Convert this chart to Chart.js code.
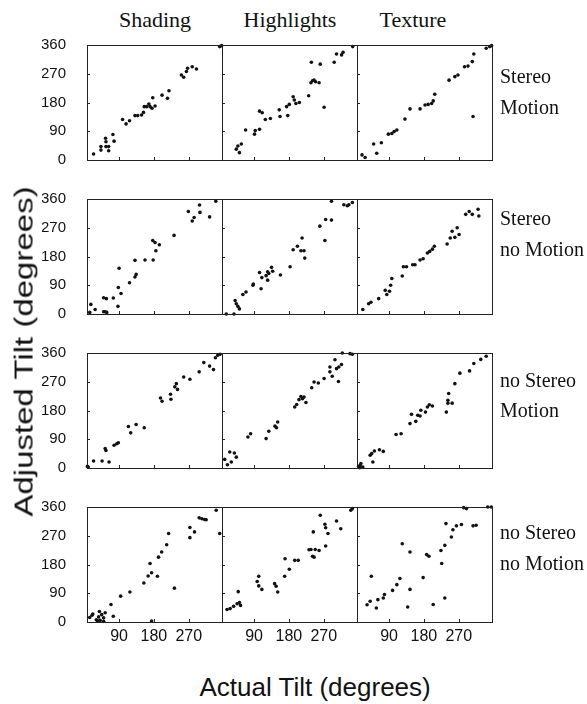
<!DOCTYPE html>
<html>
<head>
<meta charset="utf-8">
<script src="https://cdn.jsdelivr.net/npm/chart.js@4.4.1/dist/chart.umd.min.js"></script>
<style>
  body { margin: 0; background: #fff; width: 587px; height: 704px; position: relative; overflow: hidden; }
  canvas { position: absolute; }
  .lbl { position: absolute; white-space: nowrap; line-height: 1; color: #111; }
  .ser { font-family: "Liberation Serif", "Times New Roman", serif; }
  .sans { font-family: "Liberation Sans", Arial, sans-serif; }
</style>
</head>
<body>

<script>
// --- DATA ---
const columns = ['Shading', 'Highlights', 'Texture'];
const rowLabels = [['Stereo', 'Motion'], ['Stereo', 'no Motion'], ['no Stereo', 'Motion'], ['no Stereo', 'no Motion']];
const xTicks = [90, 180, 270];
const yTicks = [0, 90, 180, 270, 360];

// [actual tilt, adjusted tilt]
const shadingSM = [[24,19],[43,31],[43,42],[55,68],[56,57],[56,42],[63,42],[63,29],[74,80],[77,59],[99,127],[108,113],[117,123],[131,139],[138,139],[148,141],[153,149],[155,167],[161,167],[167,175],[170,167],[175,162],[177,195],[183,169],[201,203],[215,193],[219,217],[251,266],[257,259],[264,277],[267,287],[279,292],[290,285],[350,355],[355,358]];
const highlightsSM = [[44,34],[48,44],[52,23],[57,50],[68,94],[91,81],[93,92],[104,96],[104,153],[111,148],[119,127],[132,130],[155,157],[157,136],[174,167],[177,139],[181,174],[191,198],[194,188],[198,177],[207,180],[231,201],[238,306],[237,242],[241,248],[245,250],[249,245],[258,242],[261,300],[271,165],[297,306],[303,332],[316,329],[320,337],[345,355]];
const textureSM = [[20,16],[28,8],[50,50],[58,21],[70,54],[88,81],[97,83],[103,89],[110,94],[131,128],[144,160],[170,160],[183,172],[191,174],[200,177],[208,206],[204,185],[245,250],[260,261],[268,266],[285,292],[294,294],[307,136],[305,308],[309,332],[341,350],[350,355],[355,358]];

const shadingSN = [[14,5],[17,30],[28,14],[50,51],[57,48],[54,7],[58,5],[50,7],[75,50],[87,24],[88,83],[90,143],[95,64],[117,98],[131,116],[134,124],[131,168],[157,169],[178,169],[177,230],[183,224],[185,198],[194,217],[232,246],[269,321],[279,291],[284,302],[298,341],[299,318],[324,304],[340,353]];
const highlightsSN = [[18,0],[38,0],[41,42],[44,32],[48,24],[52,16],[61,61],[69,69],[87,90],[88,94],[104,130],[108,79],[110,114],[121,120],[125,132],[125,106],[128,127],[135,146],[138,134],[158,122],[183,148],[191,201],[202,212],[211,198],[214,238],[219,198],[221,175],[260,275],[273,230],[275,296],[290,294],[290,353],[322,342],[331,339],[335,342],[344,349]];
const textureSN = [[22,14],[37,32],[43,37],[63,48],[80,74],[84,61],[91,71],[94,90],[97,111],[124,119],[127,148],[135,148],[151,154],[157,154],[170,169],[178,173],[189,191],[195,196],[202,203],[207,212],[240,219],[248,238],[253,259],[260,240],[266,270],[271,249],[288,312],[297,321],[305,312],[320,328],[322,307]];

const shadingNM = [[8,5],[10,3],[24,22],[46,22],[54,61],[56,55],[64,19],[77,71],[84,76],[88,79],[114,130],[120,110],[134,136],[155,126],[197,219],[201,209],[223,231],[224,215],[234,254],[238,264],[241,246],[257,285],[273,278],[297,301],[309,330],[324,319],[334,308],[339,345],[345,353],[351,356]];
const highlightsNM = [[14,27],[21,10],[27,50],[31,19],[39,47],[44,34],[74,97],[81,107],[121,92],[128,115],[144,131],[151,144],[148,126],[195,191],[200,199],[206,214],[211,224],[215,217],[219,222],[224,205],[239,251],[245,269],[256,266],[271,280],[286,301],[286,316],[292,287],[299,339],[303,311],[309,316],[308,271],[316,324],[318,360],[338,358],[344,356]];
const textureNM = [[11,5],[17,14],[22,3],[14,1],[15,8],[41,40],[45,45],[48,19],[52,53],[65,57],[75,52],[108,105],[121,107],[144,139],[148,168],[159,146],[164,165],[170,163],[172,181],[184,175],[189,191],[194,198],[202,194],[238,175],[242,203],[242,212],[244,233],[253,203],[260,264],[273,297],[298,304],[309,327],[327,340],[341,350]];

const shadingNN = [[14,14],[20,21],[22,25],[31,7],[34,4],[37,16],[39,33],[41,5],[45,23],[50,13],[54,29],[50,2],[69,55],[75,18],[94,81],[118,94],[154,122],[165,144],[170,183],[174,154],[174,3],[189,143],[192,203],[200,219],[213,242],[218,277],[233,106],[273,296],[273,264],[285,282],[297,326],[304,323],[311,321],[315,320],[341,350],[350,277]];
const highlightsNN = [[20,39],[28,42],[37,49],[46,57],[49,95],[52,61],[55,52],[98,127],[102,143],[102,113],[110,102],[143,120],[147,112],[151,94],[169,143],[170,198],[181,165],[195,193],[204,193],[232,226],[237,227],[241,206],[245,203],[243,282],[248,227],[258,224],[261,334],[273,306],[275,295],[275,238],[281,277],[303,316],[314,292],[340,350],[344,355]];
const textureNN = [[33,54],[41,65],[44,143],[57,44],[61,70],[75,75],[78,86],[99,99],[110,117],[118,136],[124,245],[138,47],[144,102],[144,219],[178,139],[187,211],[193,206],[204,55],[224,224],[226,183],[234,240],[234,75],[237,308],[251,266],[255,289],[264,301],[277,305],[283,358],[290,355],[307,301],[315,303],[345,360],[354,360]];

const panels = [
  [shadingSM, highlightsSM, textureSM],
  [shadingSN, highlightsSN, textureSN],
  [shadingNM, highlightsNM, textureNM],
  [shadingNN, highlightsNN, textureNN]
];

// --- LAYOUT ---
const plotL = [87, 222, 357];
const plotT = [45, 199, 353, 507];
const plotW = 135, plotH = 115;
const pad = 10, gutL = 45, gutB = 26;

// frame + inward tick marks
const framePlugin = {
  id: 'frame',
  afterDraw(chart) {
    const { ctx, chartArea: a, scales } = chart;
    ctx.save();
    ctx.strokeStyle = '#222';
    ctx.lineWidth = 1;
    const l = Math.round(a.left) + 0.5, t = Math.round(a.top) + 0.5;
    ctx.strokeRect(l, t, Math.round(a.width), Math.round(a.height));
    ctx.beginPath();
    xTicks.forEach(v => {
      const px = Math.round(scales.x.getPixelForValue(v)) + 0.5;
      ctx.moveTo(px, a.bottom); ctx.lineTo(px, a.bottom - 3);
    });
    yTicks.slice(1, -1).forEach(v => {
      const py = Math.round(scales.y.getPixelForValue(v)) + 0.5;
      ctx.moveTo(a.left, py); ctx.lineTo(a.left + 3, py);
    });
    ctx.stroke();
    ctx.restore();
  }
};

function addText(txt, cls, css) {
  const d = document.createElement('div');
  d.className = 'lbl ' + cls;
  d.textContent = txt;
  Object.assign(d.style, css);
  document.body.appendChild(d);
  return d;
}

function makePanel(r, c) {
  const gl = c === 0 ? gutL : 0;
  const gb = r === 3 ? gutB : 0;
  const cv = document.createElement('canvas');
  cv.width = plotW + 2 * pad + gl;
  cv.height = plotH + 2 * pad + gb;
  cv.style.left = (plotL[c] - pad - gl) + 'px';
  cv.style.top = (plotT[r] - pad) + 'px';
  document.body.appendChild(cv);

  new Chart(cv.getContext('2d'), {
    type: 'scatter',
    data: {
      datasets: [{
        data: panels[r][c].map(p => ({ x: p[0], y: p[1] })),
        backgroundColor: '#111',
        borderWidth: 0,
        pointRadius: 1.8,
        pointHoverRadius: 1.8,
        clip: false
      }]
    },
    options: {
      responsive: false,
      animation: false,
      events: [],
      layout: { padding: pad, autoPadding: false },
      plugins: { legend: { display: false }, tooltip: { enabled: false } },
      scales: {
        x: {
          type: 'linear', min: 7, max: 356,
          display: r === 3,
          afterBuildTicks: s => { s.ticks = xTicks.map(v => ({ value: v })); },
          afterFit: s => { s.height = gb; s.paddingLeft = 0; s.paddingRight = 0; },
          grid: { display: false, drawTicks: true, tickLength: 5 },
          border: { display: false },
          ticks: { color: '#111', padding: 0, maxRotation: 0, font: { family: 'Liberation Sans', size: 16 } }
        },
        y: {
          type: 'linear', min: 0, max: 360,
          display: c === 0,
          afterBuildTicks: s => { s.ticks = yTicks.map(v => ({ value: v })); },
          afterFit: s => { s.width = gl; s.paddingTop = 0; s.paddingBottom = 0; },
          grid: { display: false, drawTicks: true, tickLength: 21 },
          border: { display: false },
          ticks: { color: '#111', padding: 0, font: { family: 'Liberation Sans', size: 15 } }
        }
      }
    },
    plugins: [framePlugin]
  });
}

for (let r = 0; r < 4; r++) for (let c = 0; c < 3; c++) makePanel(r, c);

// --- TEXT ---
const colCenters = [155, 290, 413];
columns.forEach((t, i) => {
  const d = addText(t, 'ser', { fontSize: '22px', top: '9px' });
  d.style.left = (colCenters[i] - d.offsetWidth / 2) + 'px';
});

const rowBase = [[83, 114], [225, 256], [387, 417], [539, 570]];
rowLabels.forEach((lines, r) => {
  lines.forEach((t, k) => {
    addText(t, 'ser', { fontSize: '20px', left: '500px', top: (rowBase[r][k] - 17) + 'px' });
  });
});

const xt = addText('Actual Tilt (degrees)', 'sans', { fontSize: '26px', top: '674px' });
xt.style.left = (315 - xt.offsetWidth / 2) + 'px';

const yt = addText('Adjusted Tilt (degrees)', 'sans', { fontSize: '25px' });
yt.style.left = (24 - yt.offsetWidth / 2) + 'px';
yt.style.top = (351 - yt.offsetHeight / 2) + 'px';
yt.style.transform = 'rotate(-90deg) scaleX(1.32)';
</script>
</body>
</html>
